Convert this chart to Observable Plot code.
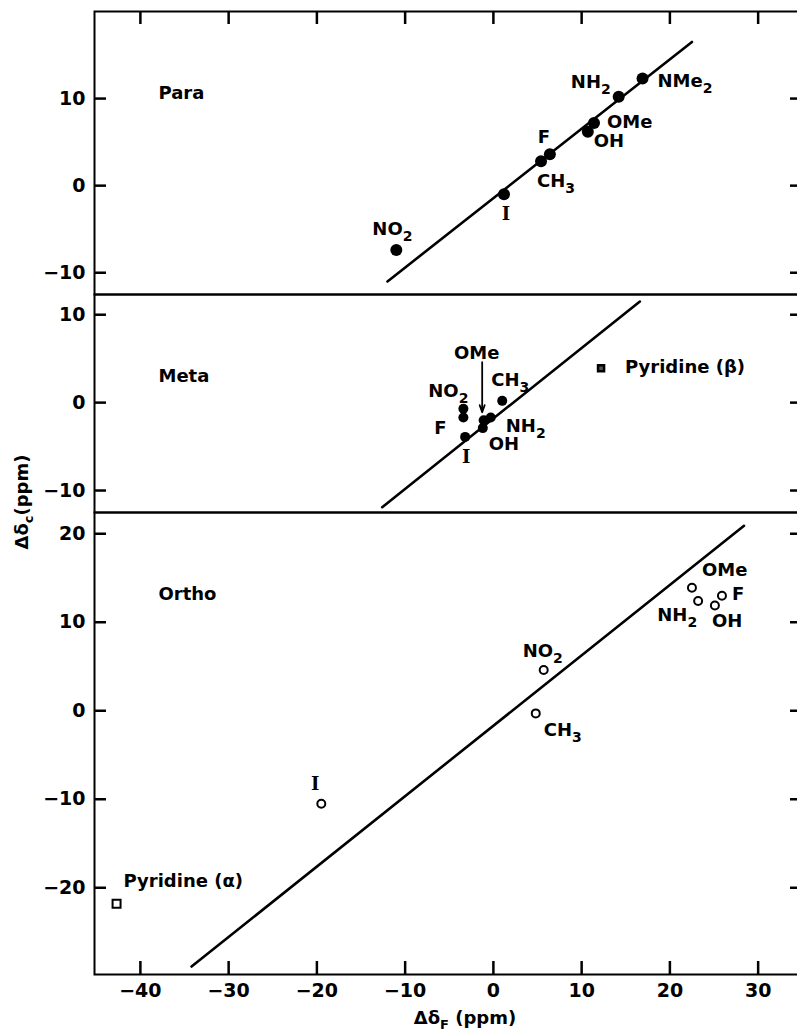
<!DOCTYPE html>
<html><head><meta charset="utf-8">
<script src="https://cdn.jsdelivr.net/npm/d3@7"></script>
<script src="https://cdn.jsdelivr.net/npm/@observablehq/plot@0.6"></script>
<style>
html,body{margin:0;padding:0;overflow:hidden;background:#fff;}
#fig{position:relative;width:800px;font-family:"DejaVu Sans",sans-serif;font-weight:bold;color:#000;}
#fig svg{display:block;}
.axlab{position:absolute;font-size:18px;white-space:nowrap;line-height:1;}
.axlab sub{font-size:72%;vertical-align:-0.35em;line-height:0;}
</style></head><body>
<div id="fig"></div>
<script>
// ---------- data ----------
const xTicks = [-40, -30, -20, -10, 0, 10, 20, 30];
const paraTicks = [-10, 0, 10];
const metaTicks = [-10, 0, 10];
const orthoTicks = [-20, -10, 0, 10, 20];
const panelNames = ["Para", "Meta", "Ortho"];
const xTitle = ["Δδ", "F", " (ppm)"];
const yTitle = ["Δδ", "c", "(ppm)"];

// Para (filled circles)
const paraSubst = ["NO₂", "I", "CH₃", "F", "OH", "OMe", "NH₂", "NMe₂"];
const paraDF    = [-11.0, 1.2, 5.4, 6.4, 10.7, 11.4, 14.2, 16.9];
const paraDC    = [-7.4, -1.0, 2.8, 3.6, 6.2, 7.2, 10.2, 12.3];
const paraFitDF = [-12.0, 22.5];
const paraFitDC = [-11.0, 16.5];

// Meta (filled circles)
const metaSubst = ["NO₂", "F", "I", "OMe", "NH₂", "OH", "CH₃"];
const metaDF    = [-3.4, -3.4, -3.2, -1.1, -0.3, -1.2, 1.0];
const metaDC    = [-0.7, -1.7, -3.9, -2.0, -1.7, -2.9, 0.2];
const metaFitDF = [-12.6, 16.6];
const metaFitDC = [-11.9, 11.5];
const metaPyrLabel = ["Pyridine (β)"];
const metaPyrDF = [12.2];
const metaPyrDC = [3.9];

// Ortho (open circles)
const orthoSubst = ["NO₂", "CH₃", "OMe", "NH₂", "OH", "F", "I"];
const orthoDF    = [5.7, 4.8, 22.5, 23.2, 25.1, 25.9, -19.5];
const orthoDC    = [4.6, -0.3, 13.9, 12.4, 11.9, 13.0, -10.5];
const orthoFitDF = [-34.2, 28.4];
const orthoFitDC = [-28.9, 20.9];
const orthoPyrLabel = ["Pyridine (α)"];
const orthoPyrDF = [-42.7];
const orthoPyrDC = [-21.8];

// ---------- label placement (pixel offsets, anchor) ----------
const place = {
  para: {"NO₂": [-24, -21, "start"], "I": [2, 20, "middle"], "CH₃": [-4, 20, "start"], "F": [-6, -17, "middle"],
         "OH": [6, 10, "start"], "OMe": [13, -1, "start"], "NH₂": [-8, -15, "end"], "NMe₂": [15, 3, "start"]},
  meta: {"NO₂": [5, -18, "end"], "F": [-23, 11, "middle"], "I": [1, 20, "middle"], "OMe": [-7, -67, "middle"],
         "NH₂": [15, 9, "start"], "OH": [6, 16, "start"], "CH₃": [-11, -21, "start"], "Pyridine (β)": [24, -1, "start"]},
  ortho: {"NO₂": [-1, -19, "middle"], "CH₃": [8, 17, "start"], "OMe": [10, -17, "start"], "NH₂": [-1, 14, "end"],
          "OH": [-3, 16, "start"], "F": [10, -1, "start"], "I": [-6, -19, "middle"], "Pyridine (α)": [7, -22, "start"]}
};

const rows = (names, xs, ys) => names.map((s, i) => ({s, dF: xs[i], dC: ys[i]}));
const fitRows = (xs, ys) => xs.map((x, i) => ({dF: x, dC: ys[i]}));
const fmt = d => d < 0 ? "\u2212" + (-d) : String(d);

const W = 800, ML = 94, MR = 0;
const PW = W - ML - MR; // plot-area width in px
const xDomain = [-45.2, 34.8];
const pxPerX = PW / (xDomain[1] - xDomain[0]);
const svgStyle = "font-family:'DejaVu Sans',sans-serif;font-size:18px;font-weight:bold;overflow:visible;max-width:none;";

function labelMarks(data, key) {
  return data.map(d => {
    const [dx, dy, anchor] = place[key][d.s];
    return Plot.text([d], {x: "dF", y: "dC", text: "s", dx, dy, textAnchor: anchor, lineAnchor: "middle",
      fontFamily: d.s === "I" ? "DejaVu Serif" : "DejaVu Sans", fontWeight: "bold", fontSize: 18, fill: "black"});
  });
}

const arrowShape = {
  draw(context, l) {
    context.moveTo(0, 0); context.lineTo(0, -l);
    context.moveTo(-2.5, -l + 7); context.lineTo(0, -l); context.lineTo(2.5, -l + 7);
  }
};

function panel({key, name, pts, fit, pyr, yDomain, yTicks, height, marginTop, marginBottom, dot, showTop, showBottom, extra = []}) {
  const PH = height - marginTop - marginBottom; // plot-area height in px
  const pxPerY = PH / (yDomain[1] - yDomain[0]);
  const ts = {stroke: "black", strokeWidth: 2.5};
  const marks = [Plot.frame({strokeWidth: 2})];
  // inward frame ticks: left & right (tick length in px converted through the scale's px/unit)
  marks.push(Plot.ruleY(yTicks, {y: d => d, x1: () => xDomain[0], x2: () => xDomain[0] + 12 / pxPerX, ...ts}));
  marks.push(Plot.ruleY(yTicks, {y: d => d, x1: () => xDomain[1] - 10 / pxPerX, x2: () => xDomain[1], ...ts}));
  if (showTop) marks.push(Plot.ruleX(xTicks, {x: d => d, y1: () => yDomain[1], y2: () => yDomain[1] - 13 / pxPerY, ...ts}));
  if (showBottom) marks.push(Plot.ruleX(xTicks, {x: d => d, y1: () => yDomain[0], y2: () => yDomain[0] + 13 / pxPerY, ...ts}));
  marks.push(Plot.axisY(yTicks, {anchor: "left", tickSize: 0, tickPadding: 9, fontSize: 19, label: null, tickFormat: fmt}));
  if (showBottom) marks.push(Plot.axisX(xTicks, {anchor: "bottom", tickSize: 0, tickPadding: 9, fontSize: 19, label: null, tickFormat: fmt}));
  marks.push(Plot.line(fit, {x: "dF", y: "dC", stroke: "black", strokeWidth: 2.6}));
  marks.push(Plot.dot(pts, {x: "dF", y: "dC", ...dot}));
  if (pyr) marks.push(Plot.dot(pyr.data, {x: "dF", y: "dC", symbol: "square", ...pyr.style}));
  marks.push(...extra);
  marks.push(...labelMarks(pts, key));
  if (pyr) marks.push(...labelMarks(pyr.data, key));
  marks.push(Plot.text([name], {text: d => d, frameAnchor: "top-left", dx: 64, dy: 82, textAnchor: "start", lineAnchor: "middle", fontSize: 18, fontWeight: "bold", fill: "black"}));
  const svg = Plot.plot({
    width: W, height, marginLeft: ML, marginRight: MR, marginTop, marginBottom,
    style: svgStyle,
    x: {domain: xDomain, axis: null},
    y: {domain: yDomain, axis: null},
    marks
  });
  subscripts(svg);
  return svg;
}

function subscripts(svg) {
  svg.querySelectorAll("text").forEach(t => {
    if (t.children.length) return;
    const s = t.textContent;
    if (!/[\u2080-\u2089]/.test(s)) return;
    t.textContent = "";
    let shifted = false;
    for (const part of s.match(/[\u2080-\u2089]+|[^\u2080-\u2089]+/g)) {
      const sub = /[\u2080-\u2089]/.test(part);
      const tsp = document.createElementNS("http://www.w3.org/2000/svg", "tspan");
      tsp.textContent = sub ? part.replace(/[\u2080-\u2089]/g, c => String(c.charCodeAt(0) - 0x2080)) : part;
      if (sub) { tsp.setAttribute("dy", "6"); tsp.setAttribute("font-size", "14"); shifted = true; }
      else if (shifted) { tsp.setAttribute("dy", "-6"); shifted = false; }
      t.appendChild(tsp);
    }
  });
}

const fig = document.getElementById("fig");

const paraPts = rows(paraSubst, paraDF, paraDC);
fig.appendChild(panel({
  key: "para", name: panelNames[0], pts: paraPts, fit: fitRows(paraFitDF, paraFitDC),
  yDomain: [-12.5, 20], yTicks: paraTicks, height: 294, marginTop: 11, marginBottom: 0,
  dot: {r: 6, fill: "black"}, showTop: true
}));

const metaPts = rows(metaSubst, metaDF, metaDC);
const ome = metaPts.filter(d => d.s === "OMe");
fig.appendChild(panel({
  key: "meta", name: panelNames[1], pts: metaPts, fit: fitRows(metaFitDF, metaFitDC),
  pyr: {data: rows(metaPyrLabel, metaPyrDF, metaPyrDC), style: {r: 3.4, stroke: "black", strokeWidth: 2.5, fill: "#555"}},
  yDomain: [-12.5, 12.3], yTicks: metaTicks, height: 218, marginTop: 0, marginBottom: 0,
  dot: {r: 5, fill: "black"},
  extra: [Plot.vector(ome, {x: "dF", y: "dC", length: 50, rotate: 180, anchor: "end", dy: -8, dx: -1.5, shape: arrowShape, stroke: "black", strokeWidth: 1.8})]
}));

const orthoPts = rows(orthoSubst, orthoDF, orthoDC);
fig.appendChild(panel({
  key: "ortho", name: panelNames[2], pts: orthoPts, fit: fitRows(orthoFitDF, orthoFitDC),
  pyr: {data: rows(orthoPyrLabel, orthoPyrDF, orthoPyrDC), style: {r: 4.5, stroke: "black", strokeWidth: 2, fill: "white"}},
  yDomain: [-29.8, 22.4], yTicks: orthoTicks, height: 523, marginTop: 0, marginBottom: 61,
  dot: {r: 4, stroke: "black", strokeWidth: 2, fill: "white"}, showBottom: true
}));

// axis titles
const xl = document.createElement("div");
xl.className = "axlab";
xl.innerHTML = `${xTitle[0]}<sub>${xTitle[1]}</sub>${xTitle[2]}`;
xl.style.left = "465px"; xl.style.top = "1018px"; xl.style.transform = "translate(-50%,-50%)";
fig.appendChild(xl);
const yl = document.createElement("div");
yl.className = "axlab";
yl.innerHTML = `${yTitle[0]}<sub>${yTitle[1]}</sub>${yTitle[2]}`;
yl.style.left = "22px"; yl.style.top = "502px"; yl.style.transform = "translate(-50%,-50%) rotate(-90deg)";
fig.appendChild(yl);
</script></body></html>
